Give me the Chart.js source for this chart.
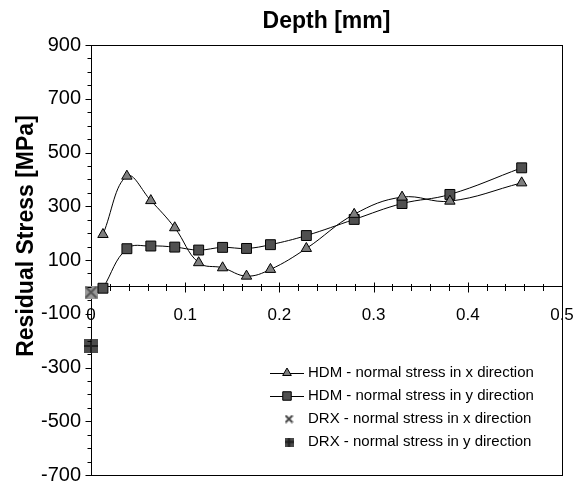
<!DOCTYPE html>
<html>
<head>
<meta charset="utf-8">
<script src="https://cdn.jsdelivr.net/npm/chart.js@4"></script>
<style>
  html, body { margin: 0; padding: 0; background: #fff; }
  #wrap { width: 576px; height: 484px; }
</style>
</head>
<body>
<div id="wrap"><canvas id="stressChart" width="576" height="484"></canvas></div>
<script>
// depth in mm, HDM stresses in MPa
const depth = [0.0127, 0.0381, 0.0635, 0.0889, 0.1143, 0.1397, 0.1651, 0.1905, 0.2286, 0.2794, 0.3302, 0.381, 0.4572];
const hdmX = [195, 412, 321, 220, 90, 71, 40, 65, 143, 270, 334, 319, 387];
const hdmY = [-5, 142, 152, 148, 137, 147, 143, 157, 191, 251, 310, 344, 443];
const drxDepth = [0];
const drxX = [-20];
const drxY = [-220];
const xTicks = [0, 0.1, 0.2, 0.3, 0.4, 0.5];
const yTicks = [-700, -500, -300, -100, 100, 300, 500, 700, 900];
const labels = [
  'HDM - normal stress in x direction',
  'HDM - normal stress in y direction',
  'DRX - normal stress in x direction',
  'DRX - normal stress in y direction'
];

const FONT = "'Liberation Sans', Arial, sans-serif";

function pts(xs, ys) {
  return xs.map((v, i) => ({ x: v, y: ys[i] }));
}

// marker images for the DRX points
function crossMarker(size, withBox) {
  const c = document.createElement('canvas');
  c.width = c.height = size;
  const g = c.getContext('2d');
  if (withBox) { g.fillStyle = '#9a9a9a'; g.fillRect(0, 0, size, size); }
  g.strokeStyle = withBox ? '#555' : '#444';
  g.lineWidth = 2;
  g.beginPath();
  g.moveTo(1, 1); g.lineTo(size - 1, size - 1);
  g.moveTo(size - 1, 1); g.lineTo(1, size - 1);
  g.stroke();
  return c;
}
function plusMarker(size) {
  const c = document.createElement('canvas');
  c.width = c.height = size;
  const g = c.getContext('2d');
  g.fillStyle = '#4a4a4a'; g.fillRect(0, 0, size, size);
  g.strokeStyle = '#1e1e1e';
  g.lineWidth = 2;
  g.beginPath();
  g.moveTo(size / 2, 0); g.lineTo(size / 2, size);
  g.moveTo(0, size / 2); g.lineTo(size, size / 2);
  g.stroke();
  return c;
}

function noPad(s) {
  s.paddingLeft = s.paddingRight = s.paddingTop = s.paddingBottom = 0;
}

// tick marks: x ticks cross the zero line, y ticks point outward
const axisTicks = {
  id: 'axisTicks',
  afterDatasetsDraw(chart) {
    const { ctx, scales: { x, y } } = chart;
    const y0 = Math.round(y.getPixelForValue(0)) + 0.5;
    const xl = Math.round(x.left) + 0.5;
    ctx.save();
    ctx.strokeStyle = '#000';
    ctx.lineWidth = 1;
    ctx.beginPath();
    for (let i = 1; i <= 25; i++) {
      const px = Math.round(x.getPixelForValue(i * 0.02)) + 0.5;
      const h = i % 5 === 0 ? 5 : 3.5;
      ctx.moveTo(px, y0 - h); ctx.lineTo(px, y0 + h);
    }
    for (let v = -700; v <= 900; v += 50) {
      const py = Math.round(y.getPixelForValue(v)) + 0.5;
      const w = yTicks.includes(v) ? 6 : 4;
      ctx.moveTo(xl - w, py); ctx.lineTo(xl, py);
    }
    ctx.stroke();
    ctx.restore();
  }
};

// legend inside the plot, plus the y axis title
const sideText = {
  id: 'sideText',
  afterDraw(chart) {
    const ctx = chart.ctx;
    ctx.save();
    ctx.fillStyle = '#000';
    ctx.font = "bold 23px " + FONT;
    ctx.translate(33, 236);
    ctx.rotate(-Math.PI / 2);
    ctx.textAlign = 'center';
    ctx.textBaseline = 'alphabetic';
    ctx.fillText('Residual Stress [MPa]', 0, 0);
    ctx.restore();

    ctx.save();
    chart.data.datasets.forEach((ds, i) => {
      const ry = 373 + i * 23;
      if (ds.showLine !== false) {
        ctx.strokeStyle = '#000';
        ctx.lineWidth = 1;
        ctx.beginPath();
        ctx.moveTo(270, ry + 0.5); ctx.lineTo(304, ry + 0.5);
        ctx.stroke();
      }
      if (ds.legendMarker) {
        const m = ds.legendMarker;
        ctx.drawImage(m, 289 - m.width / 2, ry - m.height / 2);
      } else {
        ctx.fillStyle = ds.pointBackgroundColor;
        ctx.strokeStyle = '#000';
        ctx.lineWidth = 1;
        Chart.helpers.drawPoint(ctx, { pointStyle: ds.pointStyle, radius: ds.legendRadius, rotation: 0, borderWidth: 1 }, 287, ry);
      }
      ctx.fillStyle = '#000';
      ctx.font = "15px " + FONT;
      ctx.textAlign = 'left';
      ctx.textBaseline = 'middle';
      ctx.fillText(ds.label, 308, ry);
    });
    ctx.restore();
  }
};

new Chart(document.getElementById('stressChart'), {
  type: 'line',
  data: {
    datasets: [
      {
        label: labels[0],
        data: pts(depth, hdmX),
        borderColor: '#000', borderWidth: 1, tension: 0.4,
        pointStyle: 'triangle', pointRadius: 6, legendRadius: 5,
        pointBackgroundColor: '#7f7f7f', pointBorderColor: '#000', pointBorderWidth: 1
      },
      {
        label: labels[1],
        data: pts(depth, hdmY),
        borderColor: '#000', borderWidth: 1, tension: 0.4,
        pointStyle: 'rect', pointRadius: 7, legendRadius: 6,
        pointBackgroundColor: '#505050', pointBorderColor: '#000', pointBorderWidth: 1
      },
      {
        label: labels[2],
        data: pts(drxDepth, drxX),
        showLine: false, clip: false,
        pointStyle: crossMarker(13, true), legendMarker: crossMarker(9, false)
      },
      {
        label: labels[3],
        data: pts(drxDepth, drxY),
        showLine: false, clip: false,
        pointStyle: plusMarker(14), legendMarker: plusMarker(9)
      }
    ]
  },
  options: {
    responsive: false,
    animation: false,
    devicePixelRatio: 1,
    events: [],
    layout: { padding: 0 },
    plugins: { legend: { display: false }, tooltip: { enabled: false } },
    scales: {
      x: {
        type: 'linear', min: 0, max: 0.5,
        position: { y: 0 },
        afterBuildTicks: s => { s.ticks = xTicks.map(v => ({ value: v })); },
        afterFit: noPad,
        ticks: {
          color: '#000', font: { family: FONT, size: 17 }, padding: 18,
          maxRotation: 0, autoSkip: false,
          callback: v => (v === 0 ? '0' : v.toFixed(1))
        },
        grid: { display: false, drawTicks: false },
        border: { display: true, color: '#000', width: 1 }
      },
      y: {
        type: 'linear', min: -700, max: 900, position: 'left',
        afterBuildTicks: s => { s.ticks = yTicks.map(v => ({ value: v })); },
        afterFit: s => { s.width = 91; noPad(s); },
        ticks: { color: '#000', font: { family: FONT, size: 20 }, padding: 10 },
        grid: { display: false, drawTicks: false },
        border: { display: true, color: '#000', width: 1 }
      },
      x2: {
        type: 'linear', axis: 'x', min: 0, max: 0.5, position: 'top',
        afterFit: s => { s.height = 45; noPad(s); },
        ticks: { display: false },
        grid: { display: false, drawTicks: false },
        border: { display: true, color: '#000', width: 1 },
        title: {
          display: true, text: 'Depth [mm]', color: '#000',
          font: { family: FONT, size: 23, weight: 'bold' },
          padding: { top: 8, bottom: 0 }
        }
      },
      y2: {
        type: 'linear', axis: 'y', min: -700, max: 900, position: 'right',
        afterFit: s => { s.width = 14; noPad(s); },
        ticks: { display: false },
        grid: { display: false, drawTicks: false },
        border: { display: true, color: '#000', width: 1 }
      },
      x3: {
        type: 'linear', axis: 'x', min: 0, max: 0.5, position: 'bottom',
        afterFit: s => { s.height = 9; noPad(s); },
        ticks: { display: false },
        grid: { display: false, drawTicks: false },
        border: { display: true, color: '#000', width: 1 }
      }
    }
  },
  plugins: [axisTicks, sideText]
});
</script>
</body>
</html>
